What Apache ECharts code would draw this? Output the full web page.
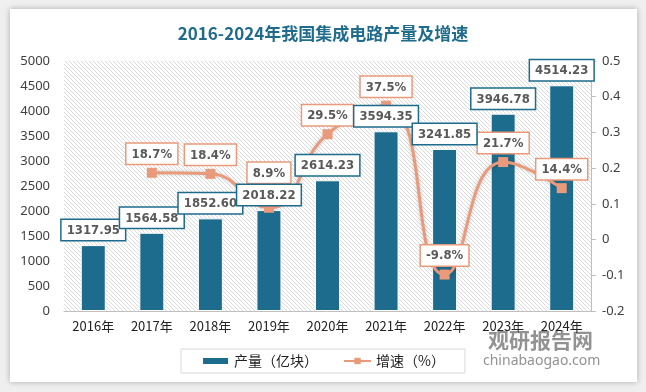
<!DOCTYPE html>
<html>
<head>
<meta charset="utf-8">
<script src="https://cdn.jsdelivr.net/npm/echarts@6/dist/echarts.min.js"></script>
<style>
  html,body{margin:0;padding:0;background:#efefef;width:646px;height:392px;overflow:hidden;}
  #card{position:absolute;left:10px;top:9px;width:627px;height:373px;background:#fff;box-shadow:0 0 6px rgba(0,0,0,0.28);}
  #main{position:absolute;left:0;top:0;width:646px;height:392px;}
</style>
</head>
<body>
<div id="card"></div>
<div id="main"></div>
<script>
const categories = ['2016年','2017年','2018年','2019年','2020年','2021年','2022年','2023年','2024年'];
const output = [1317.95, 1564.58, 1852.60, 2018.22, 2614.23, 3594.35, 3241.85, 3946.78, 4514.23];
const growth = [null, 0.187, 0.184, 0.089, 0.295, 0.375, -0.098, 0.217, 0.144];
const leftTicks = {min: 0, max: 5000, interval: 500};
const rightTicks = {min: -0.2, max: 0.5, interval: 0.1};

const barColor = '#1d6b8d';
const lineColor = '#e99a7a';

// hatch pattern for the plot background
const tile = document.createElement('canvas');
tile.width = 4; tile.height = 4;
const c = tile.getContext('2d');
c.fillStyle = '#ffffff'; c.fillRect(0,0,4,4);
c.strokeStyle = '#d6d6d6'; c.lineWidth = 0.9;
c.beginPath();
c.moveTo(-1,-1); c.lineTo(5,5);
c.moveTo(-1,3); c.lineTo(1,5);
c.moveTo(3,-1); c.lineTo(5,1);
c.stroke();

const labelFont = "'DejaVu Sans Condensed','DejaVu Sans','Liberation Sans',sans-serif";
const cjk = "'Noto Sans CJK SC','Noto Sans',sans-serif";

const chart = echarts.init(document.getElementById('main'), null, {renderer: 'canvas'});

const lineData = growth.map((v, i) => {
  if (v === null) return null;
  const item = {value: v};
  if (i === 3) item.label = {offset: [0, -16]};
  return item;
});

const boxLabel = (border) => ({
  backgroundColor: '#ffffff', borderColor: border, borderWidth: 1.5,
  padding: [4, 5, 3, 5],
  color: '#595959', fontSize: 13, fontWeight: 'bold', fontFamily: labelFont
});

chart.setOption({
  animation: false,
  backgroundColor: 'transparent',
  title: {
    text: '2016-2024年我国集成电路产量及增速',
    left: 'center', top: 20,
    textStyle: {color: '#1f6c8c', fontSize: 17, fontWeight: 'bold', fontFamily: cjk}
  },
  legend: {
    left: 'center', top: 349,
    padding: [5, 20, 5, 20],
    itemGap: 25,
    itemWidth: 27, itemHeight: 8,
    borderColor: '#d9d9d9', borderWidth: 1,
    textStyle: {fontSize: 14, color: '#222', fontFamily: cjk},
    data: [
      {name: '产量（亿块）', icon: 'rect'},
      {name: '增速（%）'}
    ]
  },
  grid: {
    left: 64, right: 55, top: 61, bottom: 81,
    show: true, borderWidth: 0,
    backgroundColor: {image: tile, repeat: 'repeat'}
  },
  xAxis: {
    type: 'category',
    data: categories,
    axisLine: {lineStyle: {color: '#bfbfbf', width: 1}},
    axisTick: {show: false},
    axisLabel: {color: '#222', fontSize: 13, margin: 9, fontFamily: cjk}
  },
  yAxis: [
    {
      type: 'value', min: leftTicks.min, max: leftTicks.max, interval: leftTicks.interval,
      axisLine: {show: false}, axisTick: {show: false}, splitLine: {show: false},
      axisLabel: {color: '#404040', fontSize: 13, margin: 14, fontFamily: "'Noto Sans',sans-serif",
        formatter: v => String(v)}
    },
    {
      type: 'value', min: rightTicks.min, max: rightTicks.max, interval: rightTicks.interval,
      position: 'right',
      axisLine: {show: true, lineStyle: {color: '#bfbfbf'}},
      axisTick: {show: true, length: 5, lineStyle: {color: '#bfbfbf'}},
      splitLine: {show: false},
      axisLabel: {color: '#404040', fontSize: 13, margin: 11, fontFamily: "'Noto Sans',sans-serif",
        formatter: v => String(+v.toFixed(1))}
    }
  ],
  series: [
    {
      name: '产量（亿块）',
      type: 'bar',
      data: output,
      barWidth: 25,
      z: 2,
      itemStyle: {color: barColor, borderColor: '#ffffff', borderWidth: 1}
    },
    {
      name: '增速（%）',
      type: 'line',
      yAxisIndex: 1,
      data: lineData,
      smooth: 0.5,
      z: 3,
      symbol: 'rect', symbolSize: 10,
      lineStyle: {color: lineColor, width: 3, shadowBlur: 4, shadowColor: 'rgba(0,0,0,0.2)'},
      itemStyle: {color: lineColor},
      label: Object.assign({
        show: true, position: 'top', distance: 4,
        formatter: p => (p.value * 100).toFixed(1) + '%'
      }, boxLabel(lineColor))
    },
    {
      name: 'barLabels',
      type: 'bar',
      data: output,
      barWidth: 25,
      barGap: '-100%',
      z: 5,
      silent: true,
      itemStyle: {color: 'rgba(0,0,0,0)'},
      label: Object.assign({
        show: true, position: 'top', distance: 5,
        formatter: p => p.value.toFixed(2)
      }, boxLabel(barColor))
    }
  ],
  graphic: [
    {type: 'text', left: 488, top: 330, z: 0,
      style: {text: '观研报告网', fill: 'rgba(110,110,110,0.75)', fontSize: 21, fontWeight: 'bold', fontFamily: cjk}},
    {type: 'text', left: 483, top: 354, z: 0,
      style: {text: 'chinabaogao.com', fill: 'rgba(110,110,110,0.75)', fontSize: 14, fontFamily: "'Noto Sans',sans-serif"}}
  ]
});
</script>
</body>
</html>
